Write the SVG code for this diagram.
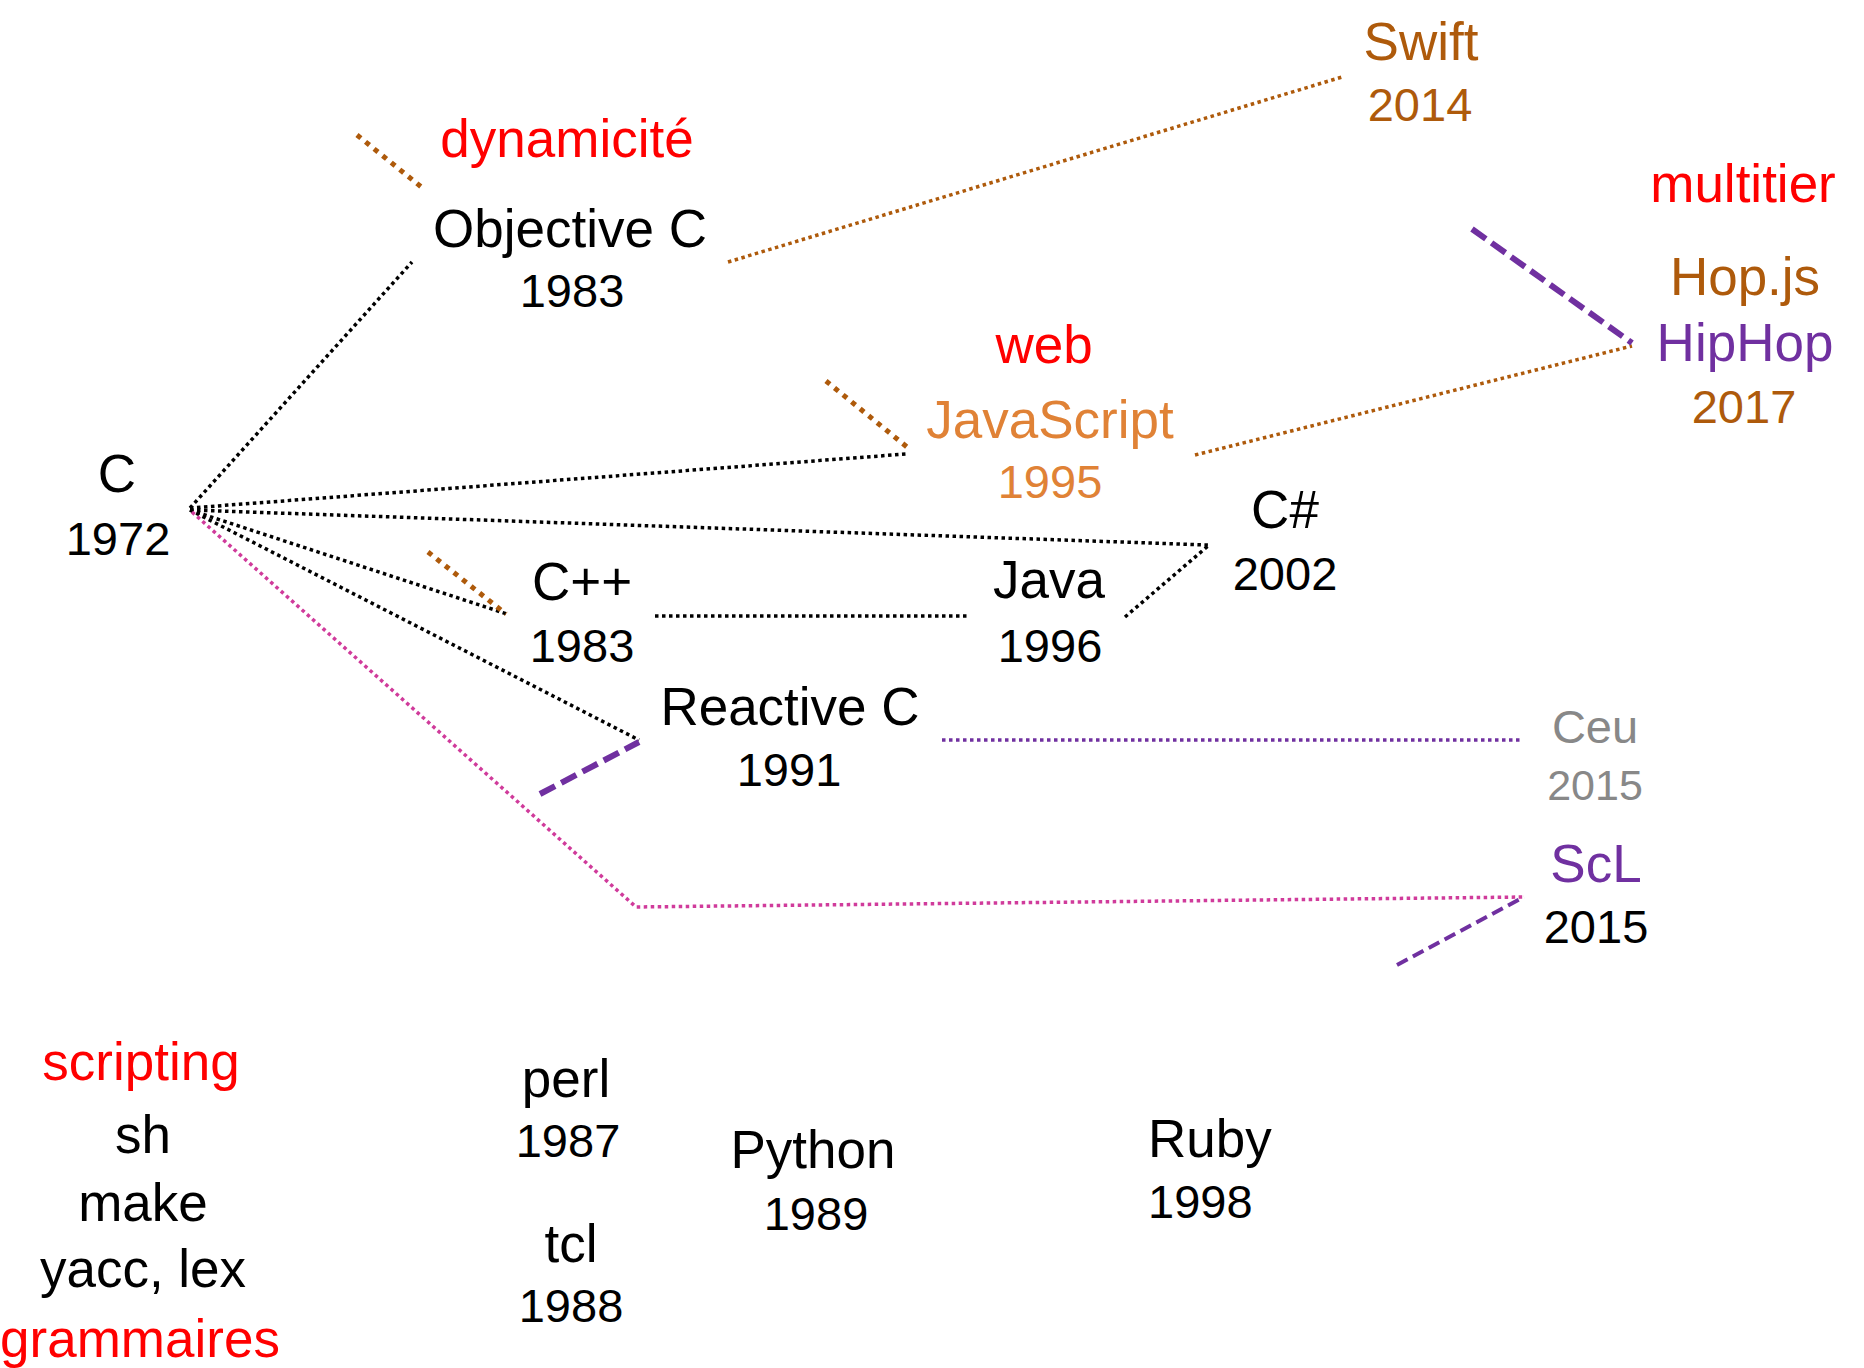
<svg xmlns="http://www.w3.org/2000/svg" width="1864" height="1368" viewBox="0 0 1864 1368">
<style>
text{font-family:"Liberation Sans",Arial,sans-serif;text-anchor:middle}
.n{font-size:53px}
.y{font-size:47px}
.k{fill:#000}
.red{fill:#FF0000}
.br{fill:#AE5A0B}
.or{fill:#E08236}
.pu{fill:#7030A0}
.gr{fill:#888888}
line,polyline{fill:none}
.dk{stroke:#000;stroke-width:3.5;stroke-dasharray:3.5 3.5}
.db{stroke:#AE5A0B;stroke-width:3.5;stroke-dasharray:3.5 3.5}
.dbt{stroke:#AE5A0B;stroke-width:5;stroke-dasharray:5 6}
.dp{stroke:#7030A0;stroke-width:3.5;stroke-dasharray:3.5 3.5}
.dpk{stroke:#D03B9B;stroke-width:3.5;stroke-dasharray:3.5 3.5}
.pd{stroke:#7030A0;stroke-width:6;stroke-dasharray:17 7}
.pdt{stroke:#7030A0;stroke-width:4;stroke-dasharray:12 6}
</style>
<rect width="1864" height="1368" fill="#fff"/>
<g id="connectors">
<line class="dk" x1="190" y1="508" x2="412" y2="262"/>
<line class="dk" x1="190" y1="508" x2="906" y2="454"/>
<line class="dk" x1="190" y1="510" x2="1208" y2="545"/>
<line class="dk" x1="190" y1="510" x2="507" y2="614"/>
<line class="dk" x1="190" y1="510" x2="639" y2="740"/>
<polyline class="dpk" points="192,512 636,907 1524,897"/>
<line class="dk" x1="655" y1="616" x2="970" y2="616"/>
<line class="dk" x1="1125" y1="617" x2="1208" y2="546"/>
<line class="db" x1="728" y1="262" x2="1342" y2="77"/>
<line class="db" x1="1195" y1="455" x2="1632" y2="346"/>
<line class="dp" x1="942" y1="740" x2="1522" y2="740"/>
<line class="dbt" x1="357" y1="135" x2="425" y2="190"/>
<line class="dbt" x1="826" y1="381" x2="907" y2="447"/>
<line class="dbt" x1="428" y1="552" x2="506" y2="614"/>
<line class="pd" x1="1472" y1="229" x2="1632" y2="343"/>
<line class="pd" x1="540" y1="794" x2="639" y2="742"/>
<line class="pdt" x1="1397" y1="965" x2="1524" y2="897"/>
</g>
<g id="c"><text class="n k" x="117" y="492">C</text><text class="y k" x="118" y="555">1972</text></g>
<g id="dynamicite"><text class="n red" x="567" y="157">dynamicité</text></g>
<g id="objective-c"><text class="n k" x="570" y="247">Objective C</text><text class="y k" x="572" y="307">1983</text></g>
<g id="swift"><text class="n br" x="1421" y="60">Swift</text><text class="y br" x="1420" y="121">2014</text></g>
<g id="multitier"><text class="n red" x="1743" y="202">multitier</text></g>
<g id="hopjs"><text class="n br" x="1745" y="295">Hop.js</text><text class="n pu" x="1745" y="361">HipHop</text><text class="y br" x="1744" y="423">2017</text></g>
<g id="web"><text class="n red" x="1044" y="363">web</text></g>
<g id="javascript"><text class="n or" x="1050" y="438">JavaScript</text><text class="y or" x="1050" y="498">1995</text></g>
<g id="csharp"><text class="n k" x="1285" y="528">C#</text><text class="y k" x="1285" y="590">2002</text></g>
<g id="cpp"><text class="n k" x="582" y="600">C++</text><text class="y k" x="582" y="662">1983</text></g>
<g id="java"><text class="n k" x="1049" y="598">Java</text><text class="y k" x="1050" y="662">1996</text></g>
<g id="reactive-c"><text class="n k" x="790" y="725">Reactive C</text><text class="y k" x="789" y="786">1991</text></g>
<g id="ceu"><text class="gr" style="font-size:47px" x="1595" y="743">Ceu</text><text class="gr" style="font-size:43px" x="1595" y="800">2015</text></g>
<g id="scl"><text class="n pu" x="1596" y="882">ScL</text><text class="y k" x="1596" y="943">2015</text></g>
<g id="scripting"><text class="n red" x="141" y="1080">scripting</text><text class="n k" x="143" y="1153">sh</text><text class="n k" x="143" y="1221">make</text><text class="n k" x="143" y="1287">yacc, lex</text><text class="n red" x="140" y="1357">grammaires</text></g>
<g id="perl"><text class="n k" x="566" y="1097">perl</text><text class="y k" x="568" y="1157">1987</text></g>
<g id="tcl"><text class="n k" x="571" y="1262">tcl</text><text class="y k" x="571" y="1322">1988</text></g>
<g id="python"><text class="n k" x="813" y="1168">Python</text><text class="y k" x="816" y="1230">1989</text></g>
<g id="ruby"><text class="n k" style="text-anchor:start" x="1148" y="1157">Ruby</text><text class="y k" style="text-anchor:start" x="1148" y="1218">1998</text></g>
</svg>
